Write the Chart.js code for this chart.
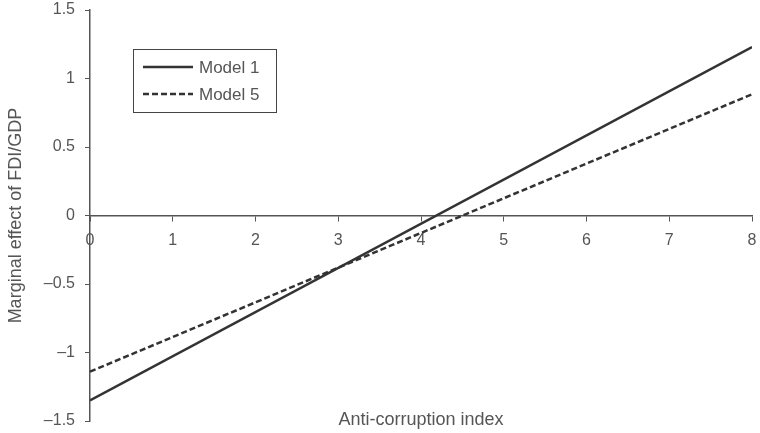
<!DOCTYPE html>
<html>
<head>
<meta charset="utf-8">
<script src="https://cdn.jsdelivr.net/npm/chart.js@4/dist/chart.umd.min.js"></script>
<style>
  body { margin: 0; background: #fff; }
  #wrap { width: 760px; height: 433px; }
</style>
</head>
<body>
<div id="wrap"><canvas id="myChart"></canvas></div>
<script>
// data
const indice = [0, 8]
const modelo1 = [-1.35, 1.23]
const modelo5 = [-1.14, 0.885]
const etiquetas = ['Model 1', 'Model 5']
const tituloX = 'Anti-corruption index'
const tituloY = 'Marginal effect of FDI/GDP'

const fuente = "'Liberation Sans', Arial, sans-serif"
const gris = '#555'
const linea = '#333'

function puntos(valores) {
  return indice.map((x, i) => ({ x: x, y: valores[i] }))
}

// legend box + x title drawn by hand
const extras = {
  id: 'extras',
  afterDraw(chart) {
    const c = chart.ctx
    const area = chart.chartArea
    c.save()
    c.font = '18px ' + fuente
    c.fillStyle = gris
    c.textAlign = 'center'
    c.textBaseline = 'middle'
    c.fillText(tituloX, (area.left + area.right) / 2, 420)

    c.strokeStyle = '#444'
    c.lineWidth = 1
    c.strokeRect(133.5, 49.5, 143, 63)
    c.font = '17px ' + fuente
    chart.data.datasets.forEach((ds, i) => {
      const y = 67 + i * 27
      c.beginPath()
      c.setLineDash(ds.borderDash || [])
      c.strokeStyle = ds.borderColor
      c.lineWidth = ds.borderWidth
      c.moveTo(143, y)
      c.lineTo(193, y)
      c.stroke()
      c.setLineDash([])
      c.fillStyle = gris
      c.textAlign = 'left'
      c.fillText(ds.label, 199, y + 1)
    })
    c.restore()
  }
}

const ctx = document.getElementById('myChart')
new Chart(ctx, {
  type: 'line',
  data: {
    datasets: [{
      label: etiquetas[0],
      data: puntos(modelo1),
      borderColor: linea,
      borderWidth: 2.5,
      pointRadius: 0
    }, {
      label: etiquetas[1],
      data: puntos(modelo5),
      borderColor: linea,
      borderWidth: 2.5,
      borderDash: [6, 3],
      pointRadius: 0
    }]
  },
  options: {
    responsive: true,
    maintainAspectRatio: false,
    animation: false,
    layout: { padding: { top: 10, bottom: 12, right: 8, left: 0 } },
    plugins: { legend: { display: false }, tooltip: { enabled: false } },
    scales: {
      x: {
        type: 'linear',
        min: 0,
        max: 8,
        position: { y: 0 },
        border: { color: gris, width: 1.5 },
        grid: { drawOnChartArea: false, drawTicks: true, tickLength: 5, color: gris },
        ticks: { stepSize: 1, padding: 10, color: gris, font: { family: fuente, size: 16 } },
        afterFit: s => { s.paddingLeft = 0; s.paddingRight = 0 }
      },
      y: {
        min: -1.5,
        max: 1.5,
        border: { color: gris, width: 1.5 },
        grid: { drawOnChartArea: false, drawTicks: true, tickLength: 5, color: gris },
        ticks: {
          stepSize: 0.5,
          padding: 10,
          color: gris,
          font: { family: fuente, size: 16 },
          callback: v => String(v).replace('-', '–')
        },
        title: {
          display: true,
          text: tituloY,
          color: gris,
          font: { family: fuente, size: 18 },
          padding: { top: 5, bottom: 0 }
        },
        afterFit: s => { s.width = 90; s.paddingTop = 0; s.paddingBottom = 0 }
      }
    }
  },
  plugins: [extras]
})
</script>
</body>
</html>
